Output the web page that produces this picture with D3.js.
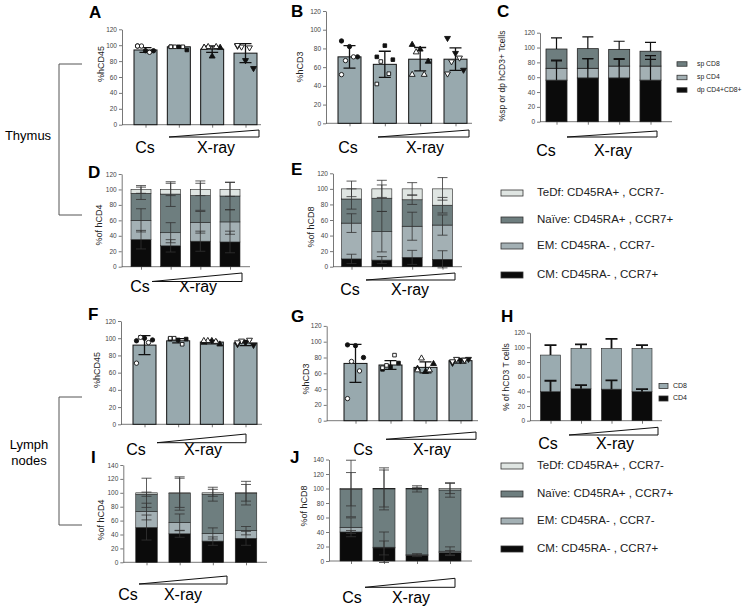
<!DOCTYPE html>
<html><head><meta charset="utf-8">
<script src="https://cdn.jsdelivr.net/npm/d3@7"></script>
<style>
body{margin:0;background:#fff;}
svg{display:block;font-family:Arial,"Liberation Sans",Helvetica,sans-serif;}
</style></head>
<body>
<svg id="c" width="744" height="606"></svg>
<script>
const groups = ["Cs","X1","X2","X3"];
const yTicks120 = [0,20,40,60,80,100,120];
const yTicks140 = [0,20,40,60,80,100,120,140];

// Panel A: %hCD45 thymus
const A_mean = [94, 98, 95, 90];
const A_sd = [3, 1.5, 4, 12];
const A_filled = [[99,93,93],[98,98,94],[97,86,97],[99,81,71]];
const A_open = [[99,91,99],[98,98,98],[98,98,97],[98,97,100]];
// Panel B: %hCD3 thymus
const B_mean = [71, 63, 68.5, 68.5];
const B_sd = [12, 14, 12.5, 12];
const B_filled = [[88,82,71],[71,83,68],[84,79,66],[91,75,57]];
const B_open = [[67,71,52],[66,53,42],[76,52,52],[66,70,53]];
// Panel C
const C_keys = ["dp CD4+CD8+","sp CD4","sp CD8"];
const C_dp = [56, 59, 59, 56];
const C_sp4 = [16, 13, 16, 19];
const C_sp8 = [26, 26.5, 22.5, 20];
const C_dpErr = [27, 26, 25, 28];
const C_sp4Err = [10, 13, 10, 14];
const C_sp8Err = [15, 16, 11, 12];
// Subset legend
const subsetKeys = ["CM: CD45RA- , CCR7+","EM: CD45RA- , CCR7-","Naïve: CD45RA+ , CCR7+","TeDf: CD45RA+ , CCR7-"];
// Panel D (% of hCD4 thymus)
const D_CM = [35, 27, 33, 32];
const D_EM = [25, 17, 24.5, 26];
const D_Naive = [35, 50, 34.5, 33.5];
const D_TeDf = [5, 6, 8, 8.5];
const D_errCM = [12, 8, 13, 14];
const D_errEM = [15, 13, 14, 16];
const D_errNaive = [8, 16, 19, 18];
const D_errTeDf = [5, 8, 8, 9];
// Panel E (% of hCD8 thymus)
const E_CM = [10, 8.5, 12, 9.5];
const E_EM = [46, 36.5, 40, 44];
const E_Naive = [31, 43, 34, 25.5];
const E_TeDf = [13, 12, 14, 21];
const E_errCM = [6, 4.5, 9, 11];
const E_errEM = [12, 26, 18, 13];
const E_errNaive = [13, 17, 6, 10];
const E_errTeDf = [10, 11, 8, 14.5];
// Panel F: %hCD45 lymph nodes
const F_mean = [92, 97, 95.5, 94.5];
const F_sd = [11, 2.5, 2, 3];
const F_filled = [[97,100,98],[99,98,99],[95,97,93],[93,95,92]];
const F_open = [[101,95,71],[100,93,100],[97,96,97],[97,98,95]];
// Panel G: %hCD3 lymph nodes
const G_mean = [72.5, 70.5, 67.5, 76];
const G_sd = [24, 5.5, 7, 3];
const G_filled = [[96,95,80],[65,68,73],[66,62,72],[73,76,78]];
const G_open = [[75,63,28],[70,83,67],[79,64,64],[78,77,75]];
// Panel H
const H_keys = ["CD4","CD8"];
const H_CD4 = [39.5, 43.5, 43, 39.5];
const H_CD8 = [50, 55, 55.5, 59];
const H_errCD4 = [15, 5, 12, 3.5];
const H_errCD8 = [13.5, 5.5, 13, 4.5];
// Panel I (% of hCD4 LN)
const I_CM = [50, 41, 30.5, 34.5];
const I_EM = [23, 16.5, 11, 11];
const I_Naive = [25, 41.5, 56.5, 54];
const I_TeDf = [2, 1, 2, 0.5];
const I_errCM = [18, 5, 6, 10];
const I_errEM = [12, 12, 8, 6];
const I_errNaive = [3, 24, 10, 17];
const I_errTeDf = [21, 21, 5, 12];
// Panel J (% of hCD8 LN)
const J_CM = [40, 18, 8, 11.5];
const J_EM = [6.5, 1, 0.5, 2];
const J_Naive = [52.5, 80.5, 91, 84.5];
const J_TeDf = [1, 0.5, 0.5, 2];
const J_errCM = [2, 9.6, 2, 3];
const J_errEM = [13, 21, 1, 6];
const J_errNaive = [23, 29, 4.3, 10];
const J_errTeDf = [39, 25.5, 1.6, 7];

const COL = {bar:"#98a9ae", CM:"#0b0b0b", EM:"#a3b0b4", Naive:"#6e7e7f", TeDf:"#dfe5e2", black:"#0b0b0b"};
const svg = d3.select("#c");
const FONT = 'Arial,"Liberation Sans",Helvetica,sans-serif';

function frame(cfg){
  const g = svg.append("g");
  const y = d3.scaleLinear().domain([0,cfg.max]).range([cfg.y0,cfg.yTop]);
  const x = d3.scalePoint().domain(groups).range([cfg.c1,cfg.c4]);
  const ya = g.append("g").attr("transform",`translate(${cfg.ax},0)`)
    .call(d3.axisLeft(y).tickValues(cfg.max===140?yTicks140:yTicks120).tickSize(3).tickSizeOuter(0).tickPadding(2));
  ya.selectAll("text").attr("font-size",6.5).attr("fill","#444").attr("font-family",FONT);
  ya.selectAll("line,path").attr("stroke","#555").attr("stroke-width",0.8);
  const xa = g.append("g").attr("transform",`translate(0,${cfg.y0})`)
    .call(d3.axisBottom(x).tickSize(3).tickSizeOuter(0).tickFormat(""));
  xa.select("path").attr("d",`M${cfg.ax},0H${cfg.axEnd}`).attr("stroke","#555").attr("stroke-width",0.8);
  xa.selectAll("line").attr("stroke","#555").attr("stroke-width",0.8);
  g.append("text").attr("x",cfg.L[0]).attr("y",cfg.L[1]).text(cfg.letter)
    .attr("font-size",17).attr("font-weight","bold").attr("font-family",FONT);
  g.append("text").attr("transform",`translate(${cfg.yl[0]},${cfg.yl[1]}) rotate(-90)`)
    .attr("text-anchor","middle").attr("dominant-baseline","middle")
    .attr("font-size",cfg.ylSize||9).attr("fill","#222").attr("font-family",FONT).text(cfg.ylabel);
  g.append("text").attr("x",cfg.cs[0]).attr("y",cfg.cs[1]).attr("text-anchor","middle")
    .attr("font-size",16).attr("font-family",FONT).text("Cs");
  g.append("text").attr("x",cfg.xr[0]).attr("y",cfg.xr[1]).attr("text-anchor","middle")
    .attr("font-size",16).attr("font-family",FONT).text("X-ray");
  const w = cfg.wedge;
  g.append("path").attr("d",`M${w[0]},${w[3]}L${w[1]},${w[2]}L${w[1]},${w[3]}Z`)
    .attr("fill","#fff").attr("stroke","#111").attr("stroke-width",1);
  return {g,x,y};
}

function symbolFor(i){
  return [d3.symbolCircle,d3.symbolSquare,d3.symbolTriangle,d3.symbolTriangle][i];
}

function dotPanel(cfg, mean, sd, filled, open){
  const {g,x,y} = frame(cfg);
  const bw = cfg.bw;
  g.selectAll(".bar").data(mean).join("rect")
    .attr("x",(d,i)=>x(groups[i])-bw/2).attr("width",bw)
    .attr("y",d=>y(d)).attr("height",d=>y(0)-y(d))
    .attr("fill",COL.bar).attr("stroke","#111").attr("stroke-width",1);
  groups.forEach((gr,i)=>{
    const pts = filled[i].map((v,j)=>({v,f:true,o:[-8,0,8][j]}))
      .concat(open[i].map((v,j)=>({v,f:false,o:[-4,4,-8][j]})));
    const cx = x(gr), t=y(mean[i]+sd[i]), b=y(mean[i]-sd[i]);
    g.append("path").attr("d",`M${cx},${t}V${b}M${cx-6},${t}H${cx+6}M${cx-6},${b}H${cx+6}`)
      .attr("stroke","#111").attr("stroke-width",1.3).attr("fill","none");
    g.selectAll(null).data(pts).join("path")
      .attr("d",d3.symbol().type(symbolFor(i)).size(i===1?13:15))
      .attr("transform",d=>`translate(${cx+d.o},${y(d.v)})${i===3?" rotate(180)":""}`)
      .attr("fill",d=>d.f?"#111":"#fff").attr("stroke","#111").attr("stroke-width",0.9);
  });
}

function stackPanel(cfg, keys, cols, series, errs, opts){
  const {g,x,y} = frame(cfg);
  const rows = groups.map((gr,i)=>{const o={group:gr}; keys.forEach((k,j)=>o[k]=series[j][i]); return o;});
  const st = d3.stack().keys(keys)(rows);
  const bw = cfg.bw;
  st.forEach((layer,j)=>{
    g.selectAll(null).data(layer).join("rect")
      .attr("x",d=>x(d.data.group)-bw/2).attr("width",bw)
      .attr("y",d=>y(d[1])).attr("height",d=>y(d[0])-y(d[1]))
      .attr("fill",cols[j]).attr("stroke","#222").attr("stroke-width",opts.sw||0.6);
  });
  st.forEach((layer,j)=>{
    layer.forEach((d,i)=>{
      const cx = x(d.data.group), e = errs[j][i];
      const t = y(d[1]+e), b = y(opts.up? d[1] : d[1]-e), c = opts.cap;
      let p = `M${cx},${t}V${b}M${cx-c},${t}H${cx+c}`;
      if(!opts.up) p += `M${cx-c},${b}H${cx+c}`;
      g.append("path").attr("d",p).attr("stroke",opts.ec).attr("stroke-width",opts.ew).attr("fill","none");
    });
  });
}

function legend(x0, ys, keys, cols, size, fs, tx){
  keys.forEach((k,i)=>{
    svg.append("rect").attr("x",x0).attr("y",ys[i]-size[1]/2).attr("width",size[0]).attr("height",size[1])
      .attr("fill",cols[i]).attr("stroke","#333").attr("stroke-width",0.8);
    svg.append("text").attr("x",tx).attr("y",ys[i]).attr("dominant-baseline","middle")
      .attr("font-size",fs).attr("fill","#222").attr("font-family",FONT).text(k);
  });
}

dotPanel({max:120,y0:124.7,yTop:29.3,ax:122,axEnd:261,c1:145.5,c4:245.5,bw:23,
  letter:"A",L:[89,18],ylabel:"%hCD45",yl:[102,64],cs:[145,153],xr:[216,153],wedge:[169,259,130,137]},
  A_mean,A_sd,A_filled,A_open);
dotPanel({max:120,y0:123.3,yTop:11,ax:326,axEnd:472,c1:349.5,c4:455.5,bw:23,
  letter:"B",L:[291,17],ylabel:"%hCD3",yl:[301,67],cs:[348,153],xr:[425,153],wedge:[378,469,130,137]},
  B_mean,B_sd,B_filled,B_open);
stackPanel({max:120,y0:121.7,yTop:32.7,ax:540,axEnd:672,c1:556.5,c4:650.5,bw:21,
  letter:"C",L:[497,17],ylabel:"%sp or dp hCD3+ Tcells",ylSize:8.5,yl:[503,76],cs:[546,156],xr:[613,156],wedge:[567,657,131,137]},
  C_keys,[COL.black,COL.EM,COL.Naive],[C_dp,C_sp4,C_sp8],[C_dpErr,C_sp4Err,C_sp8Err],{up:true,cap:5.5,ec:"#111",ew:1.2,sw:0.8});
legend(677,[64,77.5,90],["sp CD8","sp CD4","dp CD4+CD8+"],[COL.Naive,COL.EM,COL.black],[10,4.5],6.8,697);

stackPanel({max:120,y0:266.7,yTop:174,ax:121.7,axEnd:250,c1:141,c4:230,bw:20,
  letter:"D",L:[88,178],ylabel:"%of hCD4",yl:[100,225],cs:[140,292],xr:[198,292],wedge:[152,242,273,281.5]},
  subsetKeys,[COL.CM,COL.EM,COL.Naive,COL.TeDf],[D_CM,D_EM,D_Naive,D_TeDf],[D_errCM,D_errEM,D_errNaive,D_errTeDf],{up:false,cap:5,ec:"#333",ew:0.8});
stackPanel({max:120,y0:266.7,yTop:173.3,ax:333,axEnd:462,c1:351.5,c4:442.5,bw:20,
  letter:"E",L:[291,175],ylabel:"%of hCD8",yl:[312,227],cs:[350,295],xr:[410,295],wedge:[366,455,273,280]},
  subsetKeys,[COL.CM,COL.EM,COL.Naive,COL.TeDf],[E_CM,E_EM,E_Naive,E_TeDf],[E_errCM,E_errEM,E_errNaive,E_errTeDf],{up:false,cap:5,ec:"#333",ew:0.8});
legend(501,[275,246,220,193],subsetKeys,[COL.CM,COL.EM,COL.Naive,COL.TeDf],[22,6],11.5,537);

dotPanel({max:120,y0:424.3,yTop:321,ax:121,axEnd:262,c1:144.5,c4:245.5,bw:23,
  letter:"F",L:[88,320],ylabel:"%hCD45",yl:[98,370],cs:[136,455],xr:[203,455],wedge:[157,246,434,442.7]},
  F_mean,F_sd,F_filled,F_open);
dotPanel({max:120,y0:420.7,yTop:325.9,ax:326.7,axEnd:478,c1:355.5,c4:460.5,bw:23,
  letter:"G",L:[291,322],ylabel:"%hCD3",yl:[307,379],cs:[363,455],xr:[432,455],wedge:[386,476,432,439.3]},
  G_mean,G_sd,G_filled,G_open);
stackPanel({max:120,y0:420.7,yTop:332.7,ax:530,axEnd:662,c1:550.5,c4:642,bw:20,
  letter:"H",L:[501,322],ylabel:"% of hCD3 T cells",ylSize:8.5,yl:[507,377],cs:[548,449],xr:[615,449],wedge:[569,658,427.3,435]},
  H_keys,[COL.black,"#9aabb0"],[H_CD4,H_CD8],[H_errCD4,H_errCD8],{up:true,cap:6,ec:"#111",ew:1.8,sw:0.6});
legend(659,[386,398.5],["CD8","CD4"],["#9aabb0",COL.black],[9,5],7,673);

stackPanel({max:140,y0:562.3,yTop:465,ax:123.3,axEnd:267,c1:146.5,c4:246,bw:21.5,
  letter:"I",L:[91,463],ylabel:"%of hCD4",yl:[102,520],cs:[128,600],xr:[183,600],wedge:[139,227,576,584]},
  subsetKeys,[COL.CM,COL.EM,COL.Naive,COL.TeDf],[I_CM,I_EM,I_Naive,I_TeDf],[I_errCM,I_errEM,I_errNaive,I_errTeDf],{up:false,cap:5,ec:"#333",ew:0.8});
stackPanel({max:140,y0:561,yTop:459.5,ax:329,axEnd:472,c1:351,c4:450,bw:22,
  letter:"J",L:[290,463],ylabel:"%of hCD8",yl:[305,506],cs:[352,603],xr:[411,603],wedge:[365,455,578.3,587.3]},
  subsetKeys,[COL.CM,COL.EM,COL.Naive,COL.TeDf],[J_CM,J_EM,J_Naive,J_TeDf],[J_errCM,J_errEM,J_errNaive,J_errTeDf],{up:false,cap:5,ec:"#333",ew:0.8});
legend(501,[549,521,494,466],subsetKeys,[COL.CM,COL.EM,COL.Naive,COL.TeDf],[22,6],11.5,537);

function bracket(yt,yb){
  svg.append("path").attr("d",`M82,${yt}H59V${yb}H82`).attr("fill","none").attr("stroke","#555").attr("stroke-width",1);
}
bracket(64,215);
bracket(397,525);
svg.append("text").attr("x",28).attr("y",137).attr("text-anchor","middle").attr("dominant-baseline","middle")
  .attr("font-size",13).attr("font-family",FONT).text("Thymus");
svg.append("text").attr("x",29).attr("y",446).attr("text-anchor","middle").attr("dominant-baseline","middle")
  .attr("font-size",13).attr("font-family",FONT).text("Lymph");
svg.append("text").attr("x",29).attr("y",462).attr("text-anchor","middle").attr("dominant-baseline","middle")
  .attr("font-size",13).attr("font-family",FONT).text("nodes");
</script>
</body></html>
